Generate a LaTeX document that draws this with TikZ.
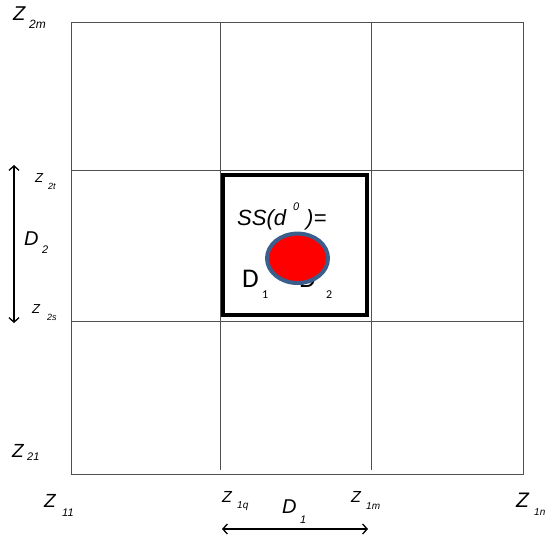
\documentclass[tikz,border=0pt]{standalone}
\usepackage{fontspec}
\setmainfont{Liberation Sans}
\newfontfamily\calfont{Carlito}
\usetikzlibrary{arrows.meta,shapes.geometric}
\newcommand\myfs[1]{\fontsize{#1}{#1}\selectfont}
\definecolor{gridc}{HTML}{505050}
\definecolor{ringc}{HTML}{3B5E8C}
\begin{document}
\begin{tikzpicture}[x=1pt,y=-1pt,
  gridline/.style={draw=gridc,line width=0.9pt},
  zl/.style={inner sep=0pt,anchor=base west,font=\myfs{#1}\itshape},
  cl/.style={inner sep=0pt,anchor=base west,font=\myfs{#1}\calfont},
  dimarrow/.style={line width=1.3pt,{Straight Barb[length=4.5pt,width=10pt]}-{Straight Barb[length=4.5pt,width=10pt]}},
  thickbox/.style={draw=black,line width=4.3pt}]
\useasboundingbox (0,0) rectangle (549,538);
\fill[white] (0,0) rectangle (549,538);
% grid
\coordinate (tl) at (71,22);
\coordinate (br) at (523,474);
\draw[gridline] (tl) rectangle (br);
\coordinate (v1t) at (220.7,22); \coordinate (v1b) at (220.7,470);
\coordinate (v2t) at (371,22);   \coordinate (v2b) at (371,470);
\coordinate (h1l) at (71,170);   \coordinate (h1r) at (523,170);
\coordinate (h2l) at (71,321);   \coordinate (h2r) at (523,321);
\draw[gridline] (v1t) -- (v1b);
\draw[gridline] (v2t) -- (v2b);
\draw[gridline] (h1l) -- (h1r);
\draw[gridline] (h2l) -- (h2r);
% central thick box
\draw[thickbox] (222.8,175.3) rectangle (367,315);
% labels left
\node[zl=20] (z2m) at (13,20) {Z};
\node[zl=12] (z2ms) at (29,28) {2m};
\node[zl=13] (z2t) at (35,182) {Z};
\node[zl=9] (z2ts) at (48,189) {2t};
\node[zl=20] (d2) at (24,245) {D};
\node[zl=11] (d2s) at (42,253) {2};
\node[zl=13] (z2s) at (32,313) {Z};
\node[zl=9] (z2ss) at (47,320) {2s};
\node[zl=19] (z21) at (12,457) {Z};
\node[zl=11] (z21s) at (27,460) {21};
% labels bottom
\node[zl=19] (z11) at (44,507) {Z};
\node[zl=11] (z11s) at (62,516) {11};
\node[zl=16] (z1q) at (222,502) {Z};
\node[zl=10] (z1qs) at (237,508) {1q};
\node[zl=20] (d1) at (282,513) {D};
\node[zl=11] (d1s) at (300,523) {1};
\node[zl=16] (z1m) at (351,502) {Z};
\node[zl=10] (z1ms) at (366,509) {1m};
\node[zl=21] (z1n) at (516,507) {Z};
\node[zl=10] (z1ns) at (534,515) {1n};
% dimension arrows
\coordinate (a2t) at (14,165); \coordinate (a2b) at (14,323);
\draw[dimarrow] (a2t) -- (a2b);
\coordinate (a1l) at (222,529); \coordinate (a1r) at (368,529);
\draw[dimarrow] (a1l) -- (a1r);
% inner texts
\node[zl=22] (ss) at (237,225) {SS(d};
\node[zl=11] (sup) at (293,210) {0};
\node[zl=22] (eq) at (306,225) {)=};
\node[cl=27] (bd1) at (242,287) {D};
\node[cl=12] (bd1s) at (262,298) {1};
\node[cl=27] (bd2) at (299,287) {D};
\node[cl=12] (bd2s) at (326,298) {2};
% red dot
\node[ellipse,draw=ringc,fill=red,line width=4pt,inner sep=0pt,
      minimum width=61pt,minimum height=49.4pt] (dot) at (297.5,258.3) {};
\end{tikzpicture}
\end{document}
